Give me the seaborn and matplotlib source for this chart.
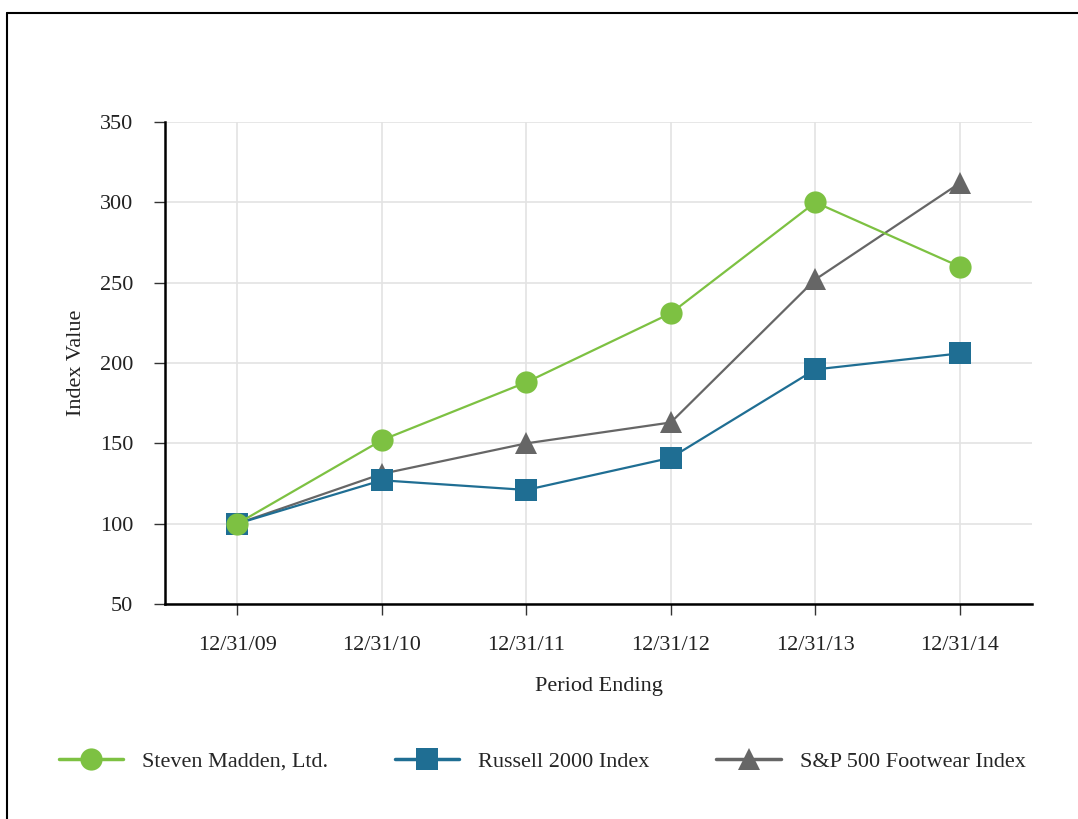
import pandas as pd
import matplotlib
matplotlib.use('Agg')
import matplotlib.pyplot as plt
import seaborn as sns
from matplotlib.lines import Line2D

periods = ['12/31/09', '12/31/10', '12/31/11', '12/31/12', '12/31/13', '12/31/14']
madden = [100, 152, 188, 231, 300, 260]
russell = [100, 127, 121, 141, 196, 206]
footwear = [100, 131, 150, 163, 252, 312]

names = ['Steven Madden, Ltd.', 'Russell 2000 Index', 'S&P 500 Footwear Index']
colors = ['#7dc142', '#1f6e93', '#666666']
marks = ['o', 's', '^']
sizes = [16, 16, 15.5]

sns.set_style('white')
plt.rcParams['font.family'] = ['Liberation Serif', 'DejaVu Serif']

fig = plt.figure(figsize=(10.78, 8.19), dpi=100)
ax = fig.add_axes([0.1531, 0.2625, 0.8043, 0.5885])

series = [madden, russell, footwear]
# draw bottom-most first so the green circles end up on top
for i in [2, 1, 0]:
    df = pd.DataFrame({'Period': periods, 'Value': series[i]})
    sns.lineplot(data=df, x='Period', y='Value', ax=ax, color=colors[i],
                 marker=marks[i], markersize=sizes[i], linewidth=1.6,
                 markeredgewidth=0, sort=False, zorder=3 + (2 - i))

ax.set_xlim(-0.5, 5.5)
ax.set_ylim(50, 350)
ax.set_yticks(range(50, 351, 50))
ax.grid(True, color='#e3e3e3', linewidth=1.2)
ax.set_axisbelow(True)
for s in ['top', 'right']:
    ax.spines[s].set_visible(False)
for s in ['left', 'bottom']:
    ax.spines[s].set_color('black')
    ax.spines[s].set_linewidth(1.8)
ax.tick_params(axis='both', which='major', length=8, width=1, color='#333333',
               labelsize=16, labelcolor='#222222', bottom=True, left=True)
ax.tick_params(axis='x', pad=15)
ax.tick_params(axis='y', pad=15)
ax.set_xlabel('Period Ending', fontsize=16, color='#222222', labelpad=16)
ax.set_ylabel('Index Value', fontsize=16, color='#222222', labelpad=10)

handles = [Line2D([], [], color=colors[i], marker=marks[i], markersize=sizes[i],
                  linewidth=2.5, markeredgewidth=0) for i in range(3)]
fig.legend(handles, names, loc='center', bbox_to_anchor=(0.503, 0.07), ncol=3,
           frameon=False, fontsize=16, handlelength=2.9, handletextpad=0.85,
           columnspacing=3.0)

# frame around the picture (top and left edges visible)
fig.add_artist(Line2D([0.0065, 1.0], [0.984, 0.984], color='black', linewidth=1.5,
                      transform=fig.transFigure))
fig.add_artist(Line2D([0.0065, 0.0065], [0.0, 0.984], color='black', linewidth=1.5,
                      transform=fig.transFigure))

fig.savefig('out.png', dpi=100, facecolor='white')
